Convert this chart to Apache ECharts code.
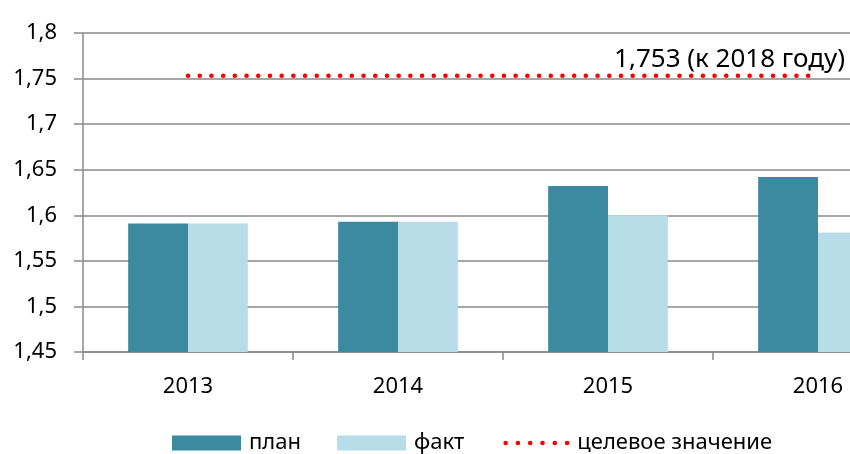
<!DOCTYPE html>
<html>
<head>
<meta charset="utf-8">
<script src="https://cdn.jsdelivr.net/npm/echarts@6/dist/echarts.min.js"></script>
<style>
html,body{margin:0;padding:0;background:#fff;}
#c{width:850px;height:454px;}
</style>
</head>
<body>
<div id="c"></div>
<script>
const categories = ['2013', '2014', '2015', '2016'];
const planValues = [1.591, 1.593, 1.632, 1.642];
const factValues = [1.591, 1.593, 1.600, 1.581];
const targetValue = 1.753;
const targetLabel = '1,753 (к 2018 году)';
const seriesNames = ['план', 'факт', 'целевое значение'];
const yMin = 1.45, yMax = 1.8, yStep = 0.05;

const FONT = 'Noto Sans';
const fmt = v => String(Math.round(v * 1000) / 1000).replace('.', ',');

// legend icon: six red dots
let dotsPath = 'path://M0,0L0.01,0L0.01,0.01Z M69,15L68.99,15L68.99,14.99Z';
for (let k = 0; k < 6; k++) {
  const x = 3 + k * 12.3;
  dotsPath += ' M' + x + ',7.5 a2.3,2.3 0 1,0 4.6,0 a2.3,2.3 0 1,0 -4.6,0Z';
}

const targetData = categories.map((c, i) => {
  if (i === categories.length - 1) {
    return {
      value: targetValue,
      label: {
        show: true, formatter: targetLabel, position: 'top',
        align: 'right', offset: [27, 0], distance: 3,
        color: '#000', fontFamily: FONT, fontSize: 26
      }
    };
  }
  return targetValue;
});

const chart = echarts.init(document.getElementById('c'), null, {renderer: 'canvas'});
chart.setOption({
  animation: false,
  textStyle: {fontFamily: FONT},
  grid: {left: 83, top: 33, bottom: 102, width: 840, containLabel: false, outerBoundsMode: 'none'},
  legend: {
    left: 167, top: 427,
    itemWidth: 69, itemHeight: 15, itemGap: 36,
    textStyle: {fontFamily: FONT, fontSize: 22, color: '#000', padding: [0, 0, 0, 3]},
    data: [
      {name: seriesNames[0], icon: 'rect'},
      {name: seriesNames[1], icon: 'rect'},
      {name: seriesNames[2], icon: dotsPath, itemStyle: {color: '#ff0000', borderWidth: 0}, lineStyle: {width: 0}}
    ]
  },
  xAxis: {
    type: 'category', data: categories,
    axisLine: {lineStyle: {color: '#8a8a8a', width: 1.5}},
    axisTick: {show: true, length: 8, lineStyle: {color: '#8a8a8a', width: 1.5}},
    axisLabel: {fontFamily: FONT, fontSize: 22, color: '#000', margin: 24}
  },
  yAxis: {
    type: 'value', min: yMin, max: yMax, interval: yStep,
    axisLine: {show: true, lineStyle: {color: '#8a8a8a', width: 1.5}},
    axisTick: {show: true, length: 9, lineStyle: {color: '#8a8a8a', width: 1.5}},
    splitLine: {lineStyle: {color: '#8a8a8a', width: 1.5}},
    axisLabel: {fontFamily: FONT, fontSize: 22, color: '#000', margin: 26, formatter: fmt}
  },
  series: [
    {
      name: seriesNames[0], type: 'bar', data: planValues,
      barGap: '0%', barCategoryGap: '43%',
      itemStyle: {color: '#3b8aa0'}
    },
    {
      name: seriesNames[1], type: 'bar', data: factValues,
      barGap: '0%', barCategoryGap: '43%',
      itemStyle: {color: '#b7dde8'}
    },
    {
      name: seriesNames[2], type: 'line', data: targetData,
      symbol: 'circle', symbolSize: 0, showSymbol: true,
      itemStyle: {color: '#ff0000'},
      lineStyle: {color: '#ff0000', width: 4.5, type: [0.1, 11.6], cap: 'round'},
      z: 5
    }
  ]
});
</script>
</body>
</html>
